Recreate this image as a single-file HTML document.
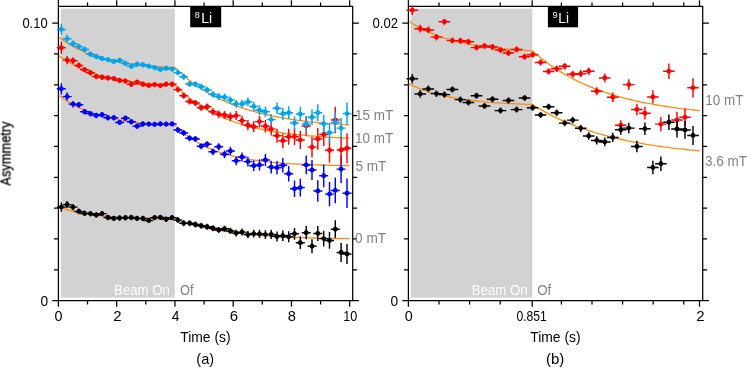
<!DOCTYPE html>
<html><head><meta charset="utf-8"><title>Asymmetry vs Time</title>
<style>
html,body{margin:0;padding:0;background:#fff;}
body{width:747px;height:368px;overflow:hidden;font-family:"Liberation Sans",sans-serif;}
svg{display:block;}
svg text, .t{font-family:"Liberation Sans",sans-serif;}
.t{opacity:0.999;}
</style></head><body>
<svg width="747" height="368" viewBox="0 0 747 368">
<rect width="747" height="368" fill="#fff"/>
<rect x="60.8" y="8.7" width="114.0" height="288.9" fill="#d2d2d2"/>
<rect x="410.8" y="8.7" width="121.5" height="288.9" fill="#d2d2d2"/>
<g stroke="#000" stroke-width="1.25" fill="none" stroke-linecap="butt">
<path d="M58.40,6.40 H352.70 V301.10"/>
<path d="M58.40,0 V306.7"/>
<path d="M52.30,300.50 H358.90"/>
<path d="M116.66,0.3 V6.40 M116.66,300.50 V306.7"/>
<path d="M174.92,0.3 V6.40 M174.92,300.50 V306.7"/>
<path d="M233.18,0.3 V6.40 M233.18,300.50 V306.7"/>
<path d="M291.44,0.3 V6.40 M291.44,300.50 V306.7"/>
<path d="M349.70,0.3 V6.40 M349.70,300.50 V306.7"/>
<path d="M87.53,2.4 V6.40 M87.53,300.50 V304.6"/>
<path d="M145.79,2.4 V6.40 M145.79,300.50 V304.6"/>
<path d="M204.05,2.4 V6.40 M204.05,300.50 V304.6"/>
<path d="M262.31,2.4 V6.40 M262.31,300.50 V304.6"/>
<path d="M320.57,2.4 V6.40 M320.57,300.50 V304.6"/>
<path d="M52.30,23.10 H58.40 M352.70,23.10 H358.90"/>
<path d="M54.00,53.94 H58.40 M352.70,53.94 H357.10"/>
<path d="M54.00,84.78 H58.40 M352.70,84.78 H357.10"/>
<path d="M54.00,115.62 H58.40 M352.70,115.62 H357.10"/>
<path d="M54.00,146.46 H58.40 M352.70,146.46 H357.10"/>
<path d="M54.00,177.30 H58.40 M352.70,177.30 H357.10"/>
<path d="M54.00,208.14 H58.40 M352.70,208.14 H357.10"/>
<path d="M54.00,238.98 H58.40 M352.70,238.98 H357.10"/>
<path d="M54.00,269.82 H58.40 M352.70,269.82 H357.10"/>
</g>
<g stroke="#000" stroke-width="1.25" fill="none" stroke-linecap="butt">
<path d="M408.40,6.40 H702.70 V301.10"/>
<path d="M408.40,0 V306.7"/>
<path d="M402.30,300.50 H708.90"/>
<path d="M532.20,0.3 V6.40 M532.20,300.50 V306.7"/>
<path d="M699.50,0.3 V6.40 M699.50,300.50 V306.7"/>
<path d="M439.00,2.4 V6.40 M439.00,300.50 V304.6"/>
<path d="M469.60,2.4 V6.40 M469.60,300.50 V304.6"/>
<path d="M500.20,2.4 V6.40 M500.20,300.50 V304.6"/>
<path d="M561.40,2.4 V6.40 M561.40,300.50 V304.6"/>
<path d="M592.00,2.4 V6.40 M592.00,300.50 V304.6"/>
<path d="M622.60,2.4 V6.40 M622.60,300.50 V304.6"/>
<path d="M653.20,2.4 V6.40 M653.20,300.50 V304.6"/>
<path d="M683.80,2.4 V6.40 M683.80,300.50 V304.6"/>
<path d="M402.30,23.10 H408.40 M702.70,23.10 H708.90"/>
<path d="M404.00,53.94 H408.40 M702.70,53.94 H707.10"/>
<path d="M404.00,84.78 H408.40 M702.70,84.78 H707.10"/>
<path d="M404.00,115.62 H408.40 M702.70,115.62 H707.10"/>
<path d="M404.00,146.46 H408.40 M702.70,146.46 H707.10"/>
<path d="M404.00,177.30 H408.40 M702.70,177.30 H707.10"/>
<path d="M404.00,208.14 H408.40 M702.70,208.14 H707.10"/>
<path d="M404.00,238.98 H408.40 M702.70,238.98 H707.10"/>
<path d="M404.00,269.82 H408.40 M702.70,269.82 H707.10"/>
</g>
<g stroke="#ff8a0d" stroke-width="1.3" fill="none">
<path d="M58.8,37.0 L60.7,38.5 L62.7,39.9 L64.6,41.2 L66.5,42.5 L68.5,43.7 L70.4,44.9 L72.4,46.0 L74.3,47.1 L76.2,48.1 L78.2,49.1 L80.1,50.0 L82.0,50.9 L84.0,51.7 L85.9,52.6 L87.8,53.3 L89.8,54.1 L91.7,54.8 L93.7,55.4 L95.6,56.1 L97.5,56.7 L99.5,57.3 L101.4,57.8 L103.3,58.4 L105.3,58.9 L107.2,59.4 L109.2,59.8 L111.1,60.3 L113.0,60.7 L115.0,61.1 L116.9,61.5 L118.8,61.9 L120.8,62.2 L122.7,62.6 L124.6,62.9 L126.6,63.2 L128.5,63.5 L130.5,63.8 L132.4,64.0 L134.3,64.3 L136.3,64.5 L138.2,64.8 L140.1,65.0 L142.1,65.2 L144.0,65.4 L145.9,65.6 L147.9,65.8 L149.8,66.0 L151.8,66.1 L153.7,66.3 L155.6,66.4 L157.6,66.6 L159.5,66.7 L161.4,66.9 L163.4,67.0 L165.3,67.1 L167.3,67.2 L169.2,67.3 L171.1,67.4 L173.1,67.5 L175.0,67.6 L177.9,70.4 L180.8,73.1 L183.7,75.6 L186.6,78.1 L189.5,80.4 L192.4,82.6 L195.3,84.7 L198.3,86.7 L201.2,88.6 L204.1,90.5 L207.0,92.2 L209.9,93.9 L212.8,95.5 L215.7,97.0 L218.6,98.4 L221.5,99.8 L224.4,101.2 L227.3,102.4 L230.2,103.6 L233.1,104.8 L236.0,105.9 L238.9,106.9 L241.9,107.9 L244.8,108.8 L247.7,109.8 L250.6,110.6 L253.5,111.4 L256.4,112.2 L259.3,113.0 L262.2,113.7 L265.1,114.4 L268.0,115.0 L270.9,115.7 L273.8,116.3 L276.7,116.8 L279.6,117.4 L282.5,117.9 L285.5,118.4 L288.4,118.8 L291.3,119.3 L294.2,119.7 L297.1,120.1 L300.0,120.5 L302.9,120.9 L305.8,121.2 L308.7,121.6 L311.6,121.9 L314.5,122.2 L317.4,122.5 L320.3,122.8 L323.2,123.1 L326.1,123.3 L329.1,123.6 L332.0,123.8 L334.9,124.0 L337.8,124.2 L340.7,124.4 L343.6,124.6 L346.5,124.8 L349.4,125.0"/>
<path d="M58.8,55.6 L60.7,57.0 L62.7,58.4 L64.6,59.7 L66.5,60.9 L68.5,62.1 L70.4,63.2 L72.4,64.3 L74.3,65.3 L76.2,66.3 L78.2,67.2 L80.1,68.1 L82.0,68.9 L84.0,69.8 L85.9,70.5 L87.8,71.3 L89.8,72.0 L91.7,72.7 L93.7,73.3 L95.6,73.9 L97.5,74.5 L99.5,75.1 L101.4,75.6 L103.3,76.1 L105.3,76.6 L107.2,77.1 L109.2,77.5 L111.1,78.0 L113.0,78.4 L115.0,78.8 L116.9,79.1 L118.8,79.5 L120.8,79.8 L122.7,80.1 L124.6,80.5 L126.6,80.7 L128.5,81.0 L130.5,81.3 L132.4,81.6 L134.3,81.8 L136.3,82.0 L138.2,82.3 L140.1,82.5 L142.1,82.7 L144.0,82.9 L145.9,83.1 L147.9,83.2 L149.8,83.4 L151.8,83.6 L153.7,83.7 L155.6,83.9 L157.6,84.0 L159.5,84.1 L161.4,84.3 L163.4,84.4 L165.3,84.5 L167.3,84.6 L169.2,84.7 L171.1,84.8 L173.1,84.9 L175.0,85.0 L177.9,87.9 L180.8,90.7 L183.7,93.3 L186.6,95.8 L189.5,98.1 L192.4,100.3 L195.3,102.4 L198.3,104.4 L201.2,106.3 L204.1,108.1 L207.0,109.8 L209.9,111.4 L212.8,112.9 L215.7,114.4 L218.6,115.7 L221.5,117.0 L224.4,118.2 L227.3,119.4 L230.2,120.5 L233.1,121.5 L236.0,122.5 L238.9,123.5 L241.9,124.4 L244.8,125.2 L247.7,126.0 L250.6,126.8 L253.5,127.5 L256.4,128.2 L259.3,128.8 L262.2,129.4 L265.1,130.0 L268.0,130.5 L270.9,131.0 L273.8,131.5 L276.7,132.0 L279.6,132.4 L282.5,132.9 L285.5,133.3 L288.4,133.6 L291.3,134.0 L294.2,134.3 L297.1,134.6 L300.0,135.0 L302.9,135.2 L305.8,135.5 L308.7,135.8 L311.6,136.0 L314.5,136.2 L317.4,136.5 L320.3,136.7 L323.2,136.9 L326.1,137.1 L329.1,137.2 L332.0,137.4 L334.9,137.6 L337.8,137.7 L340.7,137.8 L343.6,138.0 L346.5,138.1 L349.4,138.2"/>
<path d="M58.8,95.3 L60.7,96.8 L62.7,98.1 L64.6,99.5 L66.5,100.7 L68.5,102.0 L70.4,103.1 L72.4,104.2 L74.3,105.3 L76.2,106.3 L78.2,107.2 L80.1,108.2 L82.0,109.0 L84.0,109.9 L85.9,110.7 L87.8,111.4 L89.8,112.2 L91.7,112.9 L93.7,113.5 L95.6,114.2 L97.5,114.8 L99.5,115.3 L101.4,115.9 L103.3,116.4 L105.3,116.9 L107.2,117.4 L109.2,117.9 L111.1,118.3 L113.0,118.7 L115.0,119.1 L116.9,119.5 L118.8,119.9 L120.8,120.2 L122.7,120.5 L124.6,120.9 L126.6,121.2 L128.5,121.5 L130.5,121.7 L132.4,122.0 L134.3,122.3 L136.3,122.5 L138.2,122.7 L140.1,122.9 L142.1,123.2 L144.0,123.4 L145.9,123.5 L147.9,123.7 L149.8,123.9 L151.8,124.1 L153.7,124.2 L155.6,124.4 L157.6,124.5 L159.5,124.7 L161.4,124.8 L163.4,124.9 L165.3,125.0 L167.3,125.2 L169.2,125.3 L171.1,125.4 L173.1,125.5 L175.0,125.6 L177.9,128.3 L180.8,130.8 L183.7,133.2 L186.6,135.4 L189.5,137.5 L192.4,139.4 L195.3,141.2 L198.3,142.9 L201.2,144.5 L204.1,145.9 L207.0,147.3 L209.9,148.6 L212.8,149.7 L215.7,150.8 L218.6,151.9 L221.5,152.8 L224.4,153.7 L227.3,154.6 L230.2,155.4 L233.1,156.1 L236.0,156.8 L238.9,157.4 L241.9,158.0 L244.8,158.6 L247.7,159.1 L250.6,159.6 L253.5,160.0 L256.4,160.4 L259.3,160.8 L262.2,161.2 L265.1,161.5 L268.0,161.9 L270.9,162.2 L273.8,162.4 L276.7,162.7 L279.6,162.9 L282.5,163.2 L285.5,163.4 L288.4,163.6 L291.3,163.8 L294.2,163.9 L297.1,164.1 L300.0,164.2 L302.9,164.4 L305.8,164.5 L308.7,164.6 L311.6,164.7 L314.5,164.8 L317.4,164.9 L320.3,165.0 L323.2,165.1 L326.1,165.2 L329.1,165.3 L332.0,165.3 L334.9,165.4 L337.8,165.5 L340.7,165.5 L343.6,165.6 L346.5,165.6 L349.4,165.7"/>
<path d="M58.8,207.1 L60.7,207.7 L62.7,208.4 L64.6,208.9 L66.5,209.5 L68.5,210.0 L70.4,210.5 L72.4,211.0 L74.3,211.4 L76.2,211.9 L78.2,212.3 L80.1,212.6 L82.0,213.0 L84.0,213.3 L85.9,213.7 L87.8,214.0 L89.8,214.3 L91.7,214.5 L93.7,214.8 L95.6,215.0 L97.5,215.3 L99.5,215.5 L101.4,215.7 L103.3,215.9 L105.3,216.1 L107.2,216.3 L109.2,216.4 L111.1,216.6 L113.0,216.8 L115.0,216.9 L116.9,217.0 L118.8,217.2 L120.8,217.3 L122.7,217.4 L124.6,217.5 L126.6,217.6 L128.5,217.7 L130.5,217.8 L132.4,217.9 L134.3,218.0 L136.3,218.1 L138.2,218.1 L140.1,218.2 L142.1,218.3 L144.0,218.3 L145.9,218.4 L147.9,218.5 L149.8,218.5 L151.8,218.6 L153.7,218.6 L155.6,218.7 L157.6,218.7 L159.5,218.7 L161.4,218.8 L163.4,218.8 L165.3,218.9 L167.3,218.9 L169.2,218.9 L171.1,219.0 L173.1,219.0 L175.0,219.0 L177.9,220.1 L180.8,221.1 L183.7,222.1 L186.7,223.0 L189.6,223.9 L192.5,224.7 L195.4,225.5 L198.3,226.2 L201.2,226.9 L204.1,227.6 L207.0,228.2 L210.0,228.8 L212.9,229.3 L215.8,229.9 L218.7,230.4 L221.6,230.9 L224.5,231.3 L227.4,231.7 L230.4,232.2 L233.3,232.5 L236.2,232.9 L239.1,233.3 L242.0,233.6 L244.9,233.9 L247.8,234.2 L250.7,234.5 L253.7,234.7 L256.6,235.0 L259.5,235.2 L262.4,235.4 L265.3,235.7 L268.2,235.9 L271.1,236.1 L274.1,236.2 L277.0,236.4 L279.9,236.6 L282.8,236.7 L285.7,236.9 L288.6,237.0 L291.5,237.1 L294.4,237.3 L297.4,237.4 L300.3,237.5 L303.2,237.6 L306.1,237.7 L309.0,237.8 L311.9,237.9 L314.8,238.0 L317.8,238.1 L320.7,238.1 L323.6,238.2 L326.5,238.3 L329.4,238.3 L332.3,238.4 L335.2,238.5 L338.1,238.5 L341.1,238.6 L344.0,238.6 L346.9,238.7 L349.8,238.7"/>
<path d="M408.8,21.1 L410.9,22.5 L412.9,23.7 L415.0,25.0 L417.0,26.2 L419.1,27.3 L421.2,28.4 L423.2,29.5 L425.3,30.5 L427.3,31.4 L429.4,32.3 L431.5,33.2 L433.5,34.1 L435.6,34.9 L437.6,35.6 L439.7,36.4 L441.8,37.1 L443.8,37.8 L445.9,38.4 L447.9,39.1 L450.0,39.7 L452.1,40.2 L454.1,40.8 L456.2,41.3 L458.2,41.8 L460.3,42.3 L462.4,42.7 L464.4,43.2 L466.5,43.6 L468.5,44.0 L470.6,44.4 L472.7,44.8 L474.7,45.1 L476.8,45.5 L478.8,45.8 L480.9,46.1 L483.0,46.4 L485.0,46.7 L487.1,47.0 L489.1,47.3 L491.2,47.5 L493.3,47.8 L495.3,48.0 L497.4,48.2 L499.4,48.4 L501.5,48.6 L503.6,48.8 L505.6,49.0 L507.7,49.2 L509.7,49.4 L511.8,49.5 L513.9,49.7 L515.9,49.8 L518.0,50.0 L520.0,50.1 L522.1,50.3 L524.2,50.4 L526.2,50.5 L528.3,50.6 L530.3,50.7 L532.4,50.8 L535.2,53.3 L538.0,55.6 L540.8,57.9 L543.6,60.1 L546.3,62.2 L549.1,64.2 L551.9,66.2 L554.7,68.1 L557.5,69.9 L560.3,71.6 L563.1,73.3 L565.9,74.9 L568.6,76.5 L571.4,78.0 L574.2,79.4 L577.0,80.8 L579.8,82.2 L582.6,83.5 L585.4,84.7 L588.2,85.9 L591.0,87.1 L593.7,88.2 L596.5,89.3 L599.3,90.3 L602.1,91.3 L604.9,92.3 L607.7,93.2 L610.5,94.1 L613.3,95.0 L616.0,95.8 L618.8,96.6 L621.6,97.4 L624.4,98.1 L627.2,98.8 L630.0,99.5 L632.8,100.2 L635.6,100.8 L638.4,101.5 L641.1,102.1 L643.9,102.6 L646.7,103.2 L649.5,103.7 L652.3,104.2 L655.1,104.7 L657.9,105.2 L660.7,105.7 L663.5,106.1 L666.2,106.5 L669.0,106.9 L671.8,107.3 L674.6,107.7 L677.4,108.1 L680.2,108.4 L683.0,108.8 L685.8,109.1 L688.5,109.4 L691.3,109.7 L694.1,110.0 L696.9,110.3 L699.7,110.6"/>
<path d="M408.8,83.9 L410.9,84.9 L412.9,85.8 L415.0,86.7 L417.0,87.5 L419.1,88.3 L421.2,89.1 L423.2,89.8 L425.3,90.6 L427.3,91.2 L429.4,91.9 L431.5,92.5 L433.5,93.1 L435.6,93.7 L437.6,94.2 L439.7,94.7 L441.8,95.2 L443.8,95.7 L445.9,96.1 L447.9,96.6 L450.0,97.0 L452.1,97.4 L454.1,97.7 L456.2,98.1 L458.2,98.5 L460.3,98.8 L462.4,99.1 L464.4,99.4 L466.5,99.7 L468.5,100.0 L470.6,100.2 L472.7,100.5 L474.7,100.7 L476.8,101.0 L478.8,101.2 L480.9,101.4 L483.0,101.6 L485.0,101.8 L487.1,102.0 L489.1,102.1 L491.2,102.3 L493.3,102.5 L495.3,102.6 L497.4,102.8 L499.4,102.9 L501.5,103.1 L503.6,103.2 L505.6,103.3 L507.7,103.4 L509.7,103.5 L511.8,103.6 L513.9,103.7 L515.9,103.8 L518.0,103.9 L520.0,104.0 L522.1,104.1 L524.2,104.2 L526.2,104.3 L528.3,104.4 L530.3,104.4 L532.4,104.5 L535.2,106.2 L538.0,107.9 L540.8,109.5 L543.6,111.1 L546.3,112.6 L549.1,114.1 L551.9,115.6 L554.7,116.9 L557.5,118.3 L560.3,119.6 L563.1,120.8 L565.9,122.0 L568.6,123.2 L571.4,124.3 L574.2,125.4 L577.0,126.5 L579.8,127.5 L582.6,128.5 L585.4,129.5 L588.2,130.4 L591.0,131.3 L593.7,132.2 L596.5,133.0 L599.3,133.9 L602.1,134.7 L604.9,135.4 L607.7,136.2 L610.5,136.9 L613.3,137.6 L616.0,138.2 L618.8,138.9 L621.6,139.5 L624.4,140.1 L627.2,140.7 L630.0,141.3 L632.8,141.8 L635.6,142.4 L638.4,142.9 L641.1,143.4 L643.9,143.9 L646.7,144.4 L649.5,144.8 L652.3,145.2 L655.1,145.7 L657.9,146.1 L660.7,146.5 L663.5,146.9 L666.2,147.2 L669.0,147.6 L671.8,147.9 L674.6,148.3 L677.4,148.6 L680.2,148.9 L683.0,149.2 L685.8,149.5 L688.5,149.8 L691.3,150.1 L694.1,150.4 L696.9,150.6 L699.7,150.9"/>
</g>
<g stroke="#000000" stroke-width="1.45" fill="#000000">
<path d="M56.8,207.1 h9.0 M61.3,202.4 v9.4 M62.6,204.6 h9.0 M67.1,201.0 v7.1 M68.5,207.1 h9.0 M73.0,204.0 v6.2 M74.3,211.5 h9.0 M78.8,208.6 v5.7 M80.1,213.4 h9.0 M84.6,210.6 v5.5 M85.9,213.6 h9.0 M90.4,210.9 v5.5 M91.8,215.0 h9.0 M96.3,212.3 v5.4 M97.6,213.6 h9.0 M102.1,210.9 v5.4 M103.4,217.5 h9.0 M107.9,214.8 v5.4 M109.3,218.4 h9.0 M113.8,215.7 v5.4 M115.1,218.0 h9.0 M119.6,215.3 v5.4 M120.9,217.8 h9.0 M125.4,215.1 v5.4 M126.8,217.5 h9.0 M131.3,214.8 v5.4 M132.6,218.4 h9.0 M137.1,215.7 v5.4 M138.4,218.5 h9.0 M142.9,215.8 v5.4 M144.2,220.4 h9.0 M148.8,217.7 v5.4 M150.1,217.6 h9.0 M154.6,214.9 v5.4 M155.9,217.4 h9.0 M160.4,214.7 v5.4 M161.7,219.3 h9.0 M166.2,216.6 v5.4 M167.6,217.6 h9.0 M172.1,214.9 v5.4 M173.4,220.1 h9.0 M177.9,217.1 v6.0 M179.2,223.3 h9.0 M183.7,220.3 v6.0 M185.1,223.3 h9.0 M189.6,220.3 v6.0 M190.9,224.5 h9.0 M195.4,221.5 v6.0 M196.7,225.8 h9.0 M201.2,222.8 v6.0 M202.6,226.7 h9.0 M207.1,223.7 v6.0 M208.4,228.2 h9.0 M212.9,225.2 v6.0 M214.2,229.9 h9.0 M218.7,226.9 v6.0 M220.0,228.8 h9.0 M224.5,225.8 v6.0 M225.9,230.9 h9.0 M230.4,227.8 v6.2 M231.7,233.1 h9.0 M236.2,229.8 v6.6 M237.5,232.1 h9.0 M242.0,228.6 v7.0 M243.4,234.6 h9.0 M247.9,230.9 v7.4 M249.2,233.6 h9.0 M253.7,229.7 v7.8 M255.0,234.0 h9.0 M259.5,229.8 v8.3 M260.9,234.6 h9.0 M265.4,230.2 v8.8 M266.7,234.4 h9.0 M271.2,229.7 v9.3 M272.5,236.5 h9.0 M277.0,231.5 v9.9 M278.3,235.8 h9.0 M282.8,230.6 v10.5 M284.2,236.8 h9.0 M288.7,231.2 v11.1 M290.0,233.8 h9.0 M294.5,227.9 v11.8 M295.8,242.8 h9.0 M300.3,236.6 v12.5 M301.7,232.7 h9.0 M306.2,226.1 v13.2 M307.5,246.2 h9.0 M312.0,239.2 v14.0 M313.3,233.4 h9.0 M317.8,226.0 v14.9 M319.2,238.6 h9.0 M323.7,230.7 v15.8 M325.0,240.5 h9.0 M329.5,232.1 v16.7 M330.8,229.2 h9.0 M335.3,220.3 v17.7 M336.6,252.5 h9.0 M341.1,243.1 v18.8 M342.5,254.0 h9.0 M347.0,244.1 v19.9" fill="none"/>
<circle cx="61.3" cy="207.1" r="2.45" stroke="none"/>
<circle cx="67.1" cy="204.6" r="2.45" stroke="none"/>
<circle cx="73.0" cy="207.1" r="2.45" stroke="none"/>
<circle cx="78.8" cy="211.5" r="2.45" stroke="none"/>
<circle cx="84.6" cy="213.4" r="2.45" stroke="none"/>
<circle cx="90.4" cy="213.6" r="2.45" stroke="none"/>
<circle cx="96.3" cy="215.0" r="2.45" stroke="none"/>
<circle cx="102.1" cy="213.6" r="2.45" stroke="none"/>
<circle cx="107.9" cy="217.5" r="2.45" stroke="none"/>
<circle cx="113.8" cy="218.4" r="2.45" stroke="none"/>
<circle cx="119.6" cy="218.0" r="2.45" stroke="none"/>
<circle cx="125.4" cy="217.8" r="2.45" stroke="none"/>
<circle cx="131.3" cy="217.5" r="2.45" stroke="none"/>
<circle cx="137.1" cy="218.4" r="2.45" stroke="none"/>
<circle cx="142.9" cy="218.5" r="2.45" stroke="none"/>
<circle cx="148.8" cy="220.4" r="2.45" stroke="none"/>
<circle cx="154.6" cy="217.6" r="2.45" stroke="none"/>
<circle cx="160.4" cy="217.4" r="2.45" stroke="none"/>
<circle cx="166.2" cy="219.3" r="2.45" stroke="none"/>
<circle cx="172.1" cy="217.6" r="2.45" stroke="none"/>
<circle cx="177.9" cy="220.1" r="2.45" stroke="none"/>
<circle cx="183.7" cy="223.3" r="2.45" stroke="none"/>
<circle cx="189.6" cy="223.3" r="2.45" stroke="none"/>
<circle cx="195.4" cy="224.5" r="2.45" stroke="none"/>
<circle cx="201.2" cy="225.8" r="2.45" stroke="none"/>
<circle cx="207.1" cy="226.7" r="2.45" stroke="none"/>
<circle cx="212.9" cy="228.2" r="2.45" stroke="none"/>
<circle cx="218.7" cy="229.9" r="2.45" stroke="none"/>
<circle cx="224.5" cy="228.8" r="2.45" stroke="none"/>
<circle cx="230.4" cy="230.9" r="2.45" stroke="none"/>
<circle cx="236.2" cy="233.1" r="2.45" stroke="none"/>
<circle cx="242.0" cy="232.1" r="2.45" stroke="none"/>
<circle cx="247.9" cy="234.6" r="2.45" stroke="none"/>
<circle cx="253.7" cy="233.6" r="2.45" stroke="none"/>
<circle cx="259.5" cy="234.0" r="2.45" stroke="none"/>
<circle cx="265.4" cy="234.6" r="2.45" stroke="none"/>
<circle cx="271.2" cy="234.4" r="2.45" stroke="none"/>
<circle cx="277.0" cy="236.5" r="2.45" stroke="none"/>
<circle cx="282.8" cy="235.8" r="2.45" stroke="none"/>
<circle cx="288.7" cy="236.8" r="2.45" stroke="none"/>
<circle cx="294.5" cy="233.8" r="2.45" stroke="none"/>
<circle cx="300.3" cy="242.8" r="2.45" stroke="none"/>
<circle cx="306.2" cy="232.7" r="2.45" stroke="none"/>
<circle cx="312.0" cy="246.2" r="2.45" stroke="none"/>
<circle cx="317.8" cy="233.4" r="2.45" stroke="none"/>
<circle cx="323.7" cy="238.6" r="2.45" stroke="none"/>
<circle cx="329.5" cy="240.5" r="2.45" stroke="none"/>
<circle cx="335.3" cy="229.2" r="2.45" stroke="none"/>
<circle cx="341.1" cy="252.5" r="2.45" stroke="none"/>
<circle cx="347.0" cy="254.0" r="2.45" stroke="none"/>
</g>
<g stroke="#0000ff" stroke-width="1.45" fill="#0000ff">
<path d="M56.8,88.8 h9.0 M61.3,83.2 v11.2 M62.6,96.6 h9.0 M67.1,92.6 v7.9 M68.5,104.1 h9.0 M73.0,100.9 v6.5 M74.3,104.8 h9.0 M78.8,101.9 v5.9 M80.1,111.7 h9.0 M84.6,108.9 v5.6 M85.9,113.6 h9.0 M90.4,110.9 v5.5 M91.8,115.5 h9.0 M96.3,112.8 v5.4 M97.6,114.8 h9.0 M102.1,112.1 v5.4 M103.4,117.7 h9.0 M107.9,115.0 v5.4 M109.3,117.7 h9.0 M113.8,115.0 v5.4 M115.1,122.4 h9.0 M119.6,119.7 v5.4 M120.9,118.2 h9.0 M125.4,115.5 v5.4 M126.8,121.8 h9.0 M131.3,119.1 v5.4 M132.6,126.2 h9.0 M137.1,123.5 v5.4 M138.4,124.0 h9.0 M142.9,121.3 v5.4 M144.2,124.1 h9.0 M148.8,121.4 v5.4 M150.1,124.4 h9.0 M154.6,121.7 v5.4 M155.9,123.9 h9.0 M160.4,121.2 v5.4 M161.7,124.1 h9.0 M166.2,121.4 v5.4 M167.6,123.9 h9.0 M172.1,121.2 v5.4 M173.4,130.0 h9.0 M177.9,127.0 v6.0 M179.2,132.9 h9.0 M183.7,129.9 v6.0 M185.1,138.2 h9.0 M189.6,135.2 v6.0 M190.9,139.0 h9.0 M195.4,136.0 v6.0 M196.7,146.2 h9.0 M201.2,143.2 v6.0 M202.6,144.3 h9.0 M207.1,141.2 v6.3 M208.4,151.8 h9.0 M212.9,148.5 v6.7 M214.2,146.8 h9.0 M218.7,143.2 v7.1 M220.0,154.3 h9.0 M224.5,150.5 v7.6 M225.9,151.0 h9.0 M230.4,146.9 v8.1 M231.7,160.8 h9.0 M236.2,156.5 v8.7 M237.5,157.0 h9.0 M242.0,152.4 v9.2 M243.4,161.6 h9.0 M247.9,156.7 v9.9 M249.2,165.8 h9.0 M253.7,160.5 v10.5 M255.0,164.9 h9.0 M259.5,159.3 v11.2 M260.9,159.9 h9.0 M265.4,153.9 v12.0 M266.7,167.1 h9.0 M271.2,160.7 v12.8 M272.5,167.7 h9.0 M277.0,160.9 v13.6 M278.3,165.3 h9.0 M282.8,158.0 v14.5 M284.2,173.7 h9.0 M288.7,166.0 v15.5 M290.0,188.7 h9.0 M294.5,180.4 v16.5 M295.8,187.6 h9.0 M300.3,178.8 v17.6 M301.7,164.9 h9.0 M306.2,155.5 v18.8 M307.5,169.9 h9.0 M312.0,159.9 v20.0 M313.3,191.0 h9.0 M317.8,180.3 v21.4 M319.2,175.8 h9.0 M323.7,164.4 v22.8 M325.0,194.1 h9.0 M329.5,181.9 v24.3 M330.8,190.4 h9.0 M335.3,177.4 v25.9 M336.6,169.1 h9.0 M341.1,155.3 v27.7 M342.5,193.2 h9.0 M347.0,178.4 v29.5" fill="none"/>
<circle cx="61.3" cy="88.8" r="2.45" stroke="none"/>
<circle cx="67.1" cy="96.6" r="2.45" stroke="none"/>
<circle cx="73.0" cy="104.1" r="2.45" stroke="none"/>
<circle cx="78.8" cy="104.8" r="2.45" stroke="none"/>
<circle cx="84.6" cy="111.7" r="2.45" stroke="none"/>
<circle cx="90.4" cy="113.6" r="2.45" stroke="none"/>
<circle cx="96.3" cy="115.5" r="2.45" stroke="none"/>
<circle cx="102.1" cy="114.8" r="2.45" stroke="none"/>
<circle cx="107.9" cy="117.7" r="2.45" stroke="none"/>
<circle cx="113.8" cy="117.7" r="2.45" stroke="none"/>
<circle cx="119.6" cy="122.4" r="2.45" stroke="none"/>
<circle cx="125.4" cy="118.2" r="2.45" stroke="none"/>
<circle cx="131.3" cy="121.8" r="2.45" stroke="none"/>
<circle cx="137.1" cy="126.2" r="2.45" stroke="none"/>
<circle cx="142.9" cy="124.0" r="2.45" stroke="none"/>
<circle cx="148.8" cy="124.1" r="2.45" stroke="none"/>
<circle cx="154.6" cy="124.4" r="2.45" stroke="none"/>
<circle cx="160.4" cy="123.9" r="2.45" stroke="none"/>
<circle cx="166.2" cy="124.1" r="2.45" stroke="none"/>
<circle cx="172.1" cy="123.9" r="2.45" stroke="none"/>
<circle cx="177.9" cy="130.0" r="2.45" stroke="none"/>
<circle cx="183.7" cy="132.9" r="2.45" stroke="none"/>
<circle cx="189.6" cy="138.2" r="2.45" stroke="none"/>
<circle cx="195.4" cy="139.0" r="2.45" stroke="none"/>
<circle cx="201.2" cy="146.2" r="2.45" stroke="none"/>
<circle cx="207.1" cy="144.3" r="2.45" stroke="none"/>
<circle cx="212.9" cy="151.8" r="2.45" stroke="none"/>
<circle cx="218.7" cy="146.8" r="2.45" stroke="none"/>
<circle cx="224.5" cy="154.3" r="2.45" stroke="none"/>
<circle cx="230.4" cy="151.0" r="2.45" stroke="none"/>
<circle cx="236.2" cy="160.8" r="2.45" stroke="none"/>
<circle cx="242.0" cy="157.0" r="2.45" stroke="none"/>
<circle cx="247.9" cy="161.6" r="2.45" stroke="none"/>
<circle cx="253.7" cy="165.8" r="2.45" stroke="none"/>
<circle cx="259.5" cy="164.9" r="2.45" stroke="none"/>
<circle cx="265.4" cy="159.9" r="2.45" stroke="none"/>
<circle cx="271.2" cy="167.1" r="2.45" stroke="none"/>
<circle cx="277.0" cy="167.7" r="2.45" stroke="none"/>
<circle cx="282.8" cy="165.3" r="2.45" stroke="none"/>
<circle cx="288.7" cy="173.7" r="2.45" stroke="none"/>
<circle cx="294.5" cy="188.7" r="2.45" stroke="none"/>
<circle cx="300.3" cy="187.6" r="2.45" stroke="none"/>
<circle cx="306.2" cy="164.9" r="2.45" stroke="none"/>
<circle cx="312.0" cy="169.9" r="2.45" stroke="none"/>
<circle cx="317.8" cy="191.0" r="2.45" stroke="none"/>
<circle cx="323.7" cy="175.8" r="2.45" stroke="none"/>
<circle cx="329.5" cy="194.1" r="2.45" stroke="none"/>
<circle cx="335.3" cy="190.4" r="2.45" stroke="none"/>
<circle cx="341.1" cy="169.1" r="2.45" stroke="none"/>
<circle cx="347.0" cy="193.2" r="2.45" stroke="none"/>
</g>
<g stroke="#ff0000" stroke-width="1.45" fill="#ff0000">
<path d="M56.8,47.8 h9.0 M61.3,41.6 v12.4 M62.6,60.1 h9.0 M67.1,55.9 v8.4 M68.5,60.7 h9.0 M73.0,57.3 v6.7 M74.3,65.4 h9.0 M78.8,62.4 v6.0 M80.1,69.8 h9.0 M84.6,67.0 v5.6 M85.9,72.7 h9.0 M90.4,69.9 v5.5 M91.8,76.5 h9.0 M96.3,73.8 v5.4 M97.6,77.3 h9.0 M102.1,74.6 v5.4 M103.4,78.0 h9.0 M107.9,75.3 v5.4 M109.3,78.6 h9.0 M113.8,75.9 v5.4 M115.1,80.5 h9.0 M119.6,77.8 v5.4 M120.9,81.1 h9.0 M125.4,78.4 v5.4 M126.8,84.3 h9.0 M131.3,81.6 v5.4 M132.6,82.1 h9.0 M137.1,79.4 v5.4 M138.4,84.3 h9.0 M142.9,81.6 v5.4 M144.2,85.4 h9.0 M148.8,82.7 v5.4 M150.1,84.6 h9.0 M154.6,81.9 v5.4 M155.9,85.6 h9.0 M160.4,82.9 v5.4 M161.7,84.2 h9.0 M166.2,81.5 v5.4 M167.6,84.2 h9.0 M172.1,81.5 v5.4 M173.4,89.6 h9.0 M177.9,86.6 v6.0 M179.2,95.7 h9.0 M183.7,92.7 v6.0 M185.1,101.4 h9.0 M189.6,98.4 v6.0 M190.9,102.9 h9.0 M195.4,99.9 v6.0 M196.7,107.7 h9.0 M201.2,104.6 v6.1 M202.6,106.8 h9.0 M207.1,103.5 v6.5 M208.4,111.8 h9.0 M212.9,108.3 v7.0 M214.2,114.1 h9.0 M218.7,110.4 v7.4 M220.0,115.0 h9.0 M224.5,111.1 v7.9 M225.9,116.8 h9.0 M230.4,112.6 v8.4 M231.7,115.6 h9.0 M236.2,111.1 v9.0 M237.5,120.6 h9.0 M242.0,115.8 v9.5 M243.4,125.2 h9.0 M247.9,120.1 v10.2 M249.2,126.7 h9.0 M253.7,121.3 v10.8 M255.0,121.6 h9.0 M259.5,115.8 v11.6 M260.9,126.3 h9.0 M265.4,120.1 v12.3 M266.7,129.1 h9.0 M271.2,122.5 v13.1 M272.5,135.8 h9.0 M277.0,128.8 v14.0 M278.3,140.8 h9.0 M282.8,133.4 v14.9 M284.2,136.7 h9.0 M288.7,128.8 v15.9 M290.0,136.6 h9.0 M294.5,128.1 v16.9 M295.8,139.9 h9.0 M300.3,130.9 v18.0 M301.7,125.9 h9.0 M306.2,116.3 v19.2 M307.5,147.1 h9.0 M312.0,136.9 v20.5 M313.3,138.9 h9.0 M317.8,128.0 v21.8 M319.2,134.5 h9.0 M323.7,122.9 v23.2 M325.0,150.2 h9.0 M329.5,137.8 v24.7 M330.8,120.0 h9.0 M335.3,106.8 v26.4 M336.6,149.9 h9.0 M341.1,135.9 v28.1 M342.5,148.3 h9.0 M347.0,133.3 v29.9" fill="none"/>
<circle cx="61.3" cy="47.8" r="2.45" stroke="none"/>
<circle cx="67.1" cy="60.1" r="2.45" stroke="none"/>
<circle cx="73.0" cy="60.7" r="2.45" stroke="none"/>
<circle cx="78.8" cy="65.4" r="2.45" stroke="none"/>
<circle cx="84.6" cy="69.8" r="2.45" stroke="none"/>
<circle cx="90.4" cy="72.7" r="2.45" stroke="none"/>
<circle cx="96.3" cy="76.5" r="2.45" stroke="none"/>
<circle cx="102.1" cy="77.3" r="2.45" stroke="none"/>
<circle cx="107.9" cy="78.0" r="2.45" stroke="none"/>
<circle cx="113.8" cy="78.6" r="2.45" stroke="none"/>
<circle cx="119.6" cy="80.5" r="2.45" stroke="none"/>
<circle cx="125.4" cy="81.1" r="2.45" stroke="none"/>
<circle cx="131.3" cy="84.3" r="2.45" stroke="none"/>
<circle cx="137.1" cy="82.1" r="2.45" stroke="none"/>
<circle cx="142.9" cy="84.3" r="2.45" stroke="none"/>
<circle cx="148.8" cy="85.4" r="2.45" stroke="none"/>
<circle cx="154.6" cy="84.6" r="2.45" stroke="none"/>
<circle cx="160.4" cy="85.6" r="2.45" stroke="none"/>
<circle cx="166.2" cy="84.2" r="2.45" stroke="none"/>
<circle cx="172.1" cy="84.2" r="2.45" stroke="none"/>
<circle cx="177.9" cy="89.6" r="2.45" stroke="none"/>
<circle cx="183.7" cy="95.7" r="2.45" stroke="none"/>
<circle cx="189.6" cy="101.4" r="2.45" stroke="none"/>
<circle cx="195.4" cy="102.9" r="2.45" stroke="none"/>
<circle cx="201.2" cy="107.7" r="2.45" stroke="none"/>
<circle cx="207.1" cy="106.8" r="2.45" stroke="none"/>
<circle cx="212.9" cy="111.8" r="2.45" stroke="none"/>
<circle cx="218.7" cy="114.1" r="2.45" stroke="none"/>
<circle cx="224.5" cy="115.0" r="2.45" stroke="none"/>
<circle cx="230.4" cy="116.8" r="2.45" stroke="none"/>
<circle cx="236.2" cy="115.6" r="2.45" stroke="none"/>
<circle cx="242.0" cy="120.6" r="2.45" stroke="none"/>
<circle cx="247.9" cy="125.2" r="2.45" stroke="none"/>
<circle cx="253.7" cy="126.7" r="2.45" stroke="none"/>
<circle cx="259.5" cy="121.6" r="2.45" stroke="none"/>
<circle cx="265.4" cy="126.3" r="2.45" stroke="none"/>
<circle cx="271.2" cy="129.1" r="2.45" stroke="none"/>
<circle cx="277.0" cy="135.8" r="2.45" stroke="none"/>
<circle cx="282.8" cy="140.8" r="2.45" stroke="none"/>
<circle cx="288.7" cy="136.7" r="2.45" stroke="none"/>
<circle cx="294.5" cy="136.6" r="2.45" stroke="none"/>
<circle cx="300.3" cy="139.9" r="2.45" stroke="none"/>
<circle cx="306.2" cy="125.9" r="2.45" stroke="none"/>
<circle cx="312.0" cy="147.1" r="2.45" stroke="none"/>
<circle cx="317.8" cy="138.9" r="2.45" stroke="none"/>
<circle cx="323.7" cy="134.5" r="2.45" stroke="none"/>
<circle cx="329.5" cy="150.2" r="2.45" stroke="none"/>
<circle cx="335.3" cy="120.0" r="2.45" stroke="none"/>
<circle cx="341.1" cy="149.9" r="2.45" stroke="none"/>
<circle cx="347.0" cy="148.3" r="2.45" stroke="none"/>
</g>
<g stroke="#00a5ee" stroke-width="1.45" fill="#00a5ee">
<path d="M56.8,29.4 h9.0 M61.3,23.8 v11.2 M62.6,38.7 h9.0 M67.1,34.7 v7.9 M68.5,43.8 h9.0 M73.0,40.6 v6.5 M74.3,46.6 h9.0 M78.8,43.7 v5.9 M80.1,49.5 h9.0 M84.6,46.7 v5.6 M85.9,54.2 h9.0 M90.4,51.5 v5.5 M91.8,56.5 h9.0 M96.3,53.8 v5.4 M97.6,58.6 h9.0 M102.1,55.9 v5.4 M103.4,59.6 h9.0 M107.9,56.9 v5.4 M109.3,61.4 h9.0 M113.8,58.7 v5.4 M115.1,60.5 h9.0 M119.6,57.8 v5.4 M120.9,63.4 h9.0 M125.4,60.7 v5.4 M126.8,66.2 h9.0 M131.3,63.5 v5.4 M132.6,64.3 h9.0 M137.1,61.6 v5.4 M138.4,64.8 h9.0 M142.9,62.1 v5.4 M144.2,66.1 h9.0 M148.8,63.4 v5.4 M150.1,67.6 h9.0 M154.6,64.9 v5.4 M155.9,69.5 h9.0 M160.4,66.8 v5.4 M161.7,68.2 h9.0 M166.2,65.5 v5.4 M167.6,69.1 h9.0 M172.1,66.4 v5.4 M173.4,72.6 h9.0 M177.9,69.6 v6.0 M179.2,76.7 h9.0 M183.7,73.7 v6.0 M185.1,84.0 h9.0 M189.6,81.0 v6.0 M190.9,84.2 h9.0 M195.4,81.2 v6.0 M196.7,86.7 h9.0 M201.2,83.7 v6.0 M202.6,90.0 h9.0 M207.1,87.0 v6.0 M208.4,94.4 h9.0 M212.9,91.2 v6.4 M214.2,96.6 h9.0 M218.7,93.2 v6.7 M220.0,97.2 h9.0 M224.5,93.6 v7.1 M225.9,100.1 h9.0 M230.4,96.4 v7.5 M231.7,103.9 h9.0 M236.2,99.9 v7.9 M237.5,103.9 h9.0 M242.0,99.7 v8.4 M243.4,101.9 h9.0 M247.9,97.5 v8.8 M249.2,106.4 h9.0 M253.7,101.8 v9.3 M255.0,110.2 h9.0 M259.5,105.3 v9.8 M260.9,111.7 h9.0 M265.4,106.5 v10.4 M266.7,119.6 h9.0 M271.2,114.1 v10.9 M272.5,108.3 h9.0 M277.0,102.5 v11.5 M278.3,113.8 h9.0 M282.8,107.7 v12.2 M284.2,112.7 h9.0 M288.7,106.3 v12.8 M290.0,123.0 h9.0 M294.5,116.2 v13.5 M295.8,113.9 h9.0 M300.3,106.8 v14.3 M301.7,124.0 h9.0 M306.2,116.5 v15.1 M307.5,117.3 h9.0 M312.0,109.3 v15.9 M313.3,112.7 h9.0 M317.8,104.3 v16.8 M319.2,123.8 h9.0 M323.7,114.9 v17.7 M325.0,132.6 h9.0 M329.5,123.2 v18.7 M330.8,122.4 h9.0 M335.3,112.5 v19.7 M336.6,128.1 h9.0 M341.1,117.7 v20.8 M342.5,113.6 h9.0 M347.0,102.6 v22.0" fill="none"/>
<circle cx="61.3" cy="29.4" r="2.45" stroke="none"/>
<circle cx="67.1" cy="38.7" r="2.45" stroke="none"/>
<circle cx="73.0" cy="43.8" r="2.45" stroke="none"/>
<circle cx="78.8" cy="46.6" r="2.45" stroke="none"/>
<circle cx="84.6" cy="49.5" r="2.45" stroke="none"/>
<circle cx="90.4" cy="54.2" r="2.45" stroke="none"/>
<circle cx="96.3" cy="56.5" r="2.45" stroke="none"/>
<circle cx="102.1" cy="58.6" r="2.45" stroke="none"/>
<circle cx="107.9" cy="59.6" r="2.45" stroke="none"/>
<circle cx="113.8" cy="61.4" r="2.45" stroke="none"/>
<circle cx="119.6" cy="60.5" r="2.45" stroke="none"/>
<circle cx="125.4" cy="63.4" r="2.45" stroke="none"/>
<circle cx="131.3" cy="66.2" r="2.45" stroke="none"/>
<circle cx="137.1" cy="64.3" r="2.45" stroke="none"/>
<circle cx="142.9" cy="64.8" r="2.45" stroke="none"/>
<circle cx="148.8" cy="66.1" r="2.45" stroke="none"/>
<circle cx="154.6" cy="67.6" r="2.45" stroke="none"/>
<circle cx="160.4" cy="69.5" r="2.45" stroke="none"/>
<circle cx="166.2" cy="68.2" r="2.45" stroke="none"/>
<circle cx="172.1" cy="69.1" r="2.45" stroke="none"/>
<circle cx="177.9" cy="72.6" r="2.45" stroke="none"/>
<circle cx="183.7" cy="76.7" r="2.45" stroke="none"/>
<circle cx="189.6" cy="84.0" r="2.45" stroke="none"/>
<circle cx="195.4" cy="84.2" r="2.45" stroke="none"/>
<circle cx="201.2" cy="86.7" r="2.45" stroke="none"/>
<circle cx="207.1" cy="90.0" r="2.45" stroke="none"/>
<circle cx="212.9" cy="94.4" r="2.45" stroke="none"/>
<circle cx="218.7" cy="96.6" r="2.45" stroke="none"/>
<circle cx="224.5" cy="97.2" r="2.45" stroke="none"/>
<circle cx="230.4" cy="100.1" r="2.45" stroke="none"/>
<circle cx="236.2" cy="103.9" r="2.45" stroke="none"/>
<circle cx="242.0" cy="103.9" r="2.45" stroke="none"/>
<circle cx="247.9" cy="101.9" r="2.45" stroke="none"/>
<circle cx="253.7" cy="106.4" r="2.45" stroke="none"/>
<circle cx="259.5" cy="110.2" r="2.45" stroke="none"/>
<circle cx="265.4" cy="111.7" r="2.45" stroke="none"/>
<circle cx="271.2" cy="119.6" r="2.45" stroke="none"/>
<circle cx="277.0" cy="108.3" r="2.45" stroke="none"/>
<circle cx="282.8" cy="113.8" r="2.45" stroke="none"/>
<circle cx="288.7" cy="112.7" r="2.45" stroke="none"/>
<circle cx="294.5" cy="123.0" r="2.45" stroke="none"/>
<circle cx="300.3" cy="113.9" r="2.45" stroke="none"/>
<circle cx="306.2" cy="124.0" r="2.45" stroke="none"/>
<circle cx="312.0" cy="117.3" r="2.45" stroke="none"/>
<circle cx="317.8" cy="112.7" r="2.45" stroke="none"/>
<circle cx="323.7" cy="123.8" r="2.45" stroke="none"/>
<circle cx="329.5" cy="132.6" r="2.45" stroke="none"/>
<circle cx="335.3" cy="122.4" r="2.45" stroke="none"/>
<circle cx="341.1" cy="128.1" r="2.45" stroke="none"/>
<circle cx="347.0" cy="113.6" r="2.45" stroke="none"/>
</g>
<g stroke="#ff0000" stroke-width="1.45" fill="#ff0000">
<path d="M406.5,10.3 h11.6 M412.3,5.5 v9.6 M414.5,28.7 h11.6 M420.3,24.8 v7.8 M422.5,29.9 h11.6 M428.3,26.4 v6.9 M430.6,37.1 h11.6 M436.4,33.9 v6.5 M438.6,21.8 h11.6 M444.4,18.7 v6.3 M446.6,40.6 h11.6 M452.4,37.5 v6.1 M454.6,40.8 h11.6 M460.4,37.8 v6.1 M462.6,41.8 h11.6 M468.4,38.8 v6.0 M470.7,47.6 h11.6 M476.5,44.6 v6.0 M478.7,46.0 h11.6 M484.5,43.0 v6.0 M486.7,47.0 h11.6 M492.5,44.0 v6.0 M494.7,49.9 h11.6 M500.5,46.9 v6.0 M502.7,52.9 h11.6 M508.5,49.9 v6.0 M510.8,49.5 h11.6 M516.6,46.5 v6.0 M518.8,56.8 h11.6 M524.6,53.8 v6.0 M526.8,54.8 h11.6 M532.6,51.8 v6.0 M534.8,62.4 h11.6 M540.6,59.4 v6.0 M542.8,71.5 h11.6 M548.6,68.4 v6.1 M550.9,68.7 h11.6 M556.7,65.6 v6.3 M558.9,66.2 h11.6 M564.7,62.9 v6.5 M566.9,74.2 h11.6 M572.7,70.8 v6.8 M574.9,73.7 h11.6 M580.7,70.1 v7.2 M582.9,71.3 h11.6 M588.7,67.5 v7.6 M591.0,91.3 h11.6 M596.8,87.2 v8.1 M599.0,77.9 h11.6 M604.8,73.6 v8.7 M607.0,97.3 h11.6 M612.8,92.6 v9.3 M615.0,125.3 h11.6 M620.8,120.3 v10.0 M623.0,84.6 h11.6 M628.8,79.2 v10.8 M631.1,109.5 h11.6 M636.9,103.7 v11.6 M639.1,113.3 h11.6 M644.9,107.1 v12.5 M647.1,96.9 h11.6 M652.9,90.2 v13.4 M655.1,124.1 h11.6 M660.9,116.9 v14.4 M663.1,71.3 h11.6 M668.9,63.5 v15.5 M671.2,120.0 h11.6 M677.0,111.7 v16.7 M679.2,117.2 h11.6 M685.0,108.2 v17.9 M687.2,87.8 h11.6 M693.0,78.2 v19.2" fill="none"/>
<circle cx="412.3" cy="10.3" r="2.45" stroke="none"/>
<circle cx="420.3" cy="28.7" r="2.45" stroke="none"/>
<circle cx="428.3" cy="29.9" r="2.45" stroke="none"/>
<circle cx="436.4" cy="37.1" r="2.45" stroke="none"/>
<circle cx="444.4" cy="21.8" r="2.45" stroke="none"/>
<circle cx="452.4" cy="40.6" r="2.45" stroke="none"/>
<circle cx="460.4" cy="40.8" r="2.45" stroke="none"/>
<circle cx="468.4" cy="41.8" r="2.45" stroke="none"/>
<circle cx="476.5" cy="47.6" r="2.45" stroke="none"/>
<circle cx="484.5" cy="46.0" r="2.45" stroke="none"/>
<circle cx="492.5" cy="47.0" r="2.45" stroke="none"/>
<circle cx="500.5" cy="49.9" r="2.45" stroke="none"/>
<circle cx="508.5" cy="52.9" r="2.45" stroke="none"/>
<circle cx="516.6" cy="49.5" r="2.45" stroke="none"/>
<circle cx="524.6" cy="56.8" r="2.45" stroke="none"/>
<circle cx="532.6" cy="54.8" r="2.45" stroke="none"/>
<circle cx="540.6" cy="62.4" r="2.45" stroke="none"/>
<circle cx="548.6" cy="71.5" r="2.45" stroke="none"/>
<circle cx="556.7" cy="68.7" r="2.45" stroke="none"/>
<circle cx="564.7" cy="66.2" r="2.45" stroke="none"/>
<circle cx="572.7" cy="74.2" r="2.45" stroke="none"/>
<circle cx="580.7" cy="73.7" r="2.45" stroke="none"/>
<circle cx="588.7" cy="71.3" r="2.45" stroke="none"/>
<circle cx="596.8" cy="91.3" r="2.45" stroke="none"/>
<circle cx="604.8" cy="77.9" r="2.45" stroke="none"/>
<circle cx="612.8" cy="97.3" r="2.45" stroke="none"/>
<circle cx="620.8" cy="125.3" r="2.45" stroke="none"/>
<circle cx="628.8" cy="84.6" r="2.45" stroke="none"/>
<circle cx="636.9" cy="109.5" r="2.45" stroke="none"/>
<circle cx="644.9" cy="113.3" r="2.45" stroke="none"/>
<circle cx="652.9" cy="96.9" r="2.45" stroke="none"/>
<circle cx="660.9" cy="124.1" r="2.45" stroke="none"/>
<circle cx="668.9" cy="71.3" r="2.45" stroke="none"/>
<circle cx="677.0" cy="120.0" r="2.45" stroke="none"/>
<circle cx="685.0" cy="117.2" r="2.45" stroke="none"/>
<circle cx="693.0" cy="87.8" r="2.45" stroke="none"/>
</g>
<g stroke="#000000" stroke-width="1.45" fill="#000000">
<path d="M406.5,78.8 h11.6 M412.3,74.0 v9.6 M414.5,93.9 h11.6 M420.3,90.0 v7.8 M422.5,88.9 h11.6 M428.3,85.4 v6.9 M430.6,93.6 h11.6 M436.4,90.4 v6.5 M438.6,94.6 h11.6 M444.4,91.5 v6.3 M446.6,89.5 h11.6 M452.4,86.4 v6.1 M454.6,99.6 h11.6 M460.4,96.6 v6.1 M462.6,102.4 h11.6 M468.4,99.4 v6.0 M470.7,95.8 h11.6 M476.5,92.8 v6.0 M478.7,106.0 h11.6 M484.5,103.0 v6.0 M486.7,99.3 h11.6 M492.5,96.3 v6.0 M494.7,110.6 h11.6 M500.5,107.6 v6.0 M502.7,100.4 h11.6 M508.5,97.4 v6.0 M510.8,109.6 h11.6 M516.6,106.6 v6.0 M518.8,97.9 h11.6 M524.6,94.9 v6.0 M526.8,107.7 h11.6 M532.6,104.7 v6.0 M534.8,114.9 h11.6 M540.6,111.9 v6.0 M542.8,106.8 h11.6 M548.6,103.7 v6.1 M550.9,112.7 h11.6 M556.7,109.6 v6.3 M558.9,123.1 h11.6 M564.7,119.8 v6.5 M566.9,120.1 h11.6 M572.7,116.7 v6.8 M574.9,128.3 h11.6 M580.7,124.7 v7.2 M582.9,136.0 h11.6 M588.7,132.2 v7.6 M591.0,140.4 h11.6 M596.8,136.3 v8.1 M599.0,141.9 h11.6 M604.8,137.6 v8.7 M607.0,137.4 h11.6 M612.8,132.8 v9.3 M615.0,129.7 h11.6 M620.8,124.7 v10.0 M623.0,128.1 h11.6 M628.8,122.7 v10.8 M631.1,146.5 h11.6 M636.9,140.7 v11.6 M639.1,128.8 h11.6 M644.9,122.6 v12.5 M647.1,167.5 h11.6 M652.9,160.8 v13.4 M655.1,163.7 h11.6 M660.9,156.5 v14.4 M663.1,122.2 h11.6 M668.9,114.4 v15.5 M671.2,129.0 h11.6 M677.0,120.7 v16.7 M679.2,129.9 h11.6 M685.0,120.9 v17.9 M687.2,135.5 h11.6 M693.0,125.9 v19.2" fill="none"/>
<circle cx="412.3" cy="78.8" r="2.45" stroke="none"/>
<circle cx="420.3" cy="93.9" r="2.45" stroke="none"/>
<circle cx="428.3" cy="88.9" r="2.45" stroke="none"/>
<circle cx="436.4" cy="93.6" r="2.45" stroke="none"/>
<circle cx="444.4" cy="94.6" r="2.45" stroke="none"/>
<circle cx="452.4" cy="89.5" r="2.45" stroke="none"/>
<circle cx="460.4" cy="99.6" r="2.45" stroke="none"/>
<circle cx="468.4" cy="102.4" r="2.45" stroke="none"/>
<circle cx="476.5" cy="95.8" r="2.45" stroke="none"/>
<circle cx="484.5" cy="106.0" r="2.45" stroke="none"/>
<circle cx="492.5" cy="99.3" r="2.45" stroke="none"/>
<circle cx="500.5" cy="110.6" r="2.45" stroke="none"/>
<circle cx="508.5" cy="100.4" r="2.45" stroke="none"/>
<circle cx="516.6" cy="109.6" r="2.45" stroke="none"/>
<circle cx="524.6" cy="97.9" r="2.45" stroke="none"/>
<circle cx="532.6" cy="107.7" r="2.45" stroke="none"/>
<circle cx="540.6" cy="114.9" r="2.45" stroke="none"/>
<circle cx="548.6" cy="106.8" r="2.45" stroke="none"/>
<circle cx="556.7" cy="112.7" r="2.45" stroke="none"/>
<circle cx="564.7" cy="123.1" r="2.45" stroke="none"/>
<circle cx="572.7" cy="120.1" r="2.45" stroke="none"/>
<circle cx="580.7" cy="128.3" r="2.45" stroke="none"/>
<circle cx="588.7" cy="136.0" r="2.45" stroke="none"/>
<circle cx="596.8" cy="140.4" r="2.45" stroke="none"/>
<circle cx="604.8" cy="141.9" r="2.45" stroke="none"/>
<circle cx="612.8" cy="137.4" r="2.45" stroke="none"/>
<circle cx="620.8" cy="129.7" r="2.45" stroke="none"/>
<circle cx="628.8" cy="128.1" r="2.45" stroke="none"/>
<circle cx="636.9" cy="146.5" r="2.45" stroke="none"/>
<circle cx="644.9" cy="128.8" r="2.45" stroke="none"/>
<circle cx="652.9" cy="167.5" r="2.45" stroke="none"/>
<circle cx="660.9" cy="163.7" r="2.45" stroke="none"/>
<circle cx="668.9" cy="122.2" r="2.45" stroke="none"/>
<circle cx="677.0" cy="129.0" r="2.45" stroke="none"/>
<circle cx="685.0" cy="129.9" r="2.45" stroke="none"/>
<circle cx="693.0" cy="135.5" r="2.45" stroke="none"/>
</g>
<rect x="190.2" y="6.4" width="31.0" height="20.9" fill="#000"/>
<rect x="547.9" y="6.4" width="30.2" height="20.9" fill="#000"/>
<g class="t">
<text transform="translate(194.7,17.7) scale(0.94,1)" font-size="9.8" fill="#fff">8</text>
<text transform="translate(201.23,23.10) scale(0.9502,1)" font-size="14.70" fill="#fff">Li</text>
<text transform="translate(552.6,17.7) scale(0.94,1)" font-size="9.8" fill="#fff">9</text>
<text transform="translate(558.36,23.10) scale(0.9286,1)" font-size="14.70" fill="#fff">Li</text>
<text transform="translate(22.43,27.50) scale(0.8627,1)" font-size="15.00" fill="#000">0.10</text>
<text transform="translate(372.42,27.50) scale(0.8781,1)" font-size="15.00" fill="#000">0.02</text>
<text transform="translate(40.60,305.60) scale(0.9167,1)" font-size="15.00" fill="#000">0</text>
<text transform="translate(390.60,305.60) scale(0.9167,1)" font-size="15.00" fill="#000">0</text>
<text transform="translate(54.57,320.90) scale(0.9583,1)" font-size="15.00" fill="#000">0</text>
<text transform="translate(113.30,320.90) scale(1.0000,1)" font-size="15.00" fill="#000">2</text>
<text transform="translate(171.77,320.90) scale(0.9281,1)" font-size="15.00" fill="#000">4</text>
<text transform="translate(229.70,320.90) scale(1.0000,1)" font-size="15.00" fill="#000">6</text>
<text transform="translate(287.76,320.90) scale(0.9787,1)" font-size="15.00" fill="#000">8</text>
<text transform="translate(343.34,320.90) scale(0.8418,1)" font-size="15.00" fill="#000">10</text>
<text transform="translate(404.67,320.90) scale(0.9583,1)" font-size="15.00" fill="#000">0</text>
<text transform="translate(516.46,320.90) scale(0.8099,1)" font-size="15.00" fill="#000">0.851</text>
<text transform="translate(696.20,320.90) scale(1.0000,1)" font-size="15.00" fill="#000">2</text>
<text transform="translate(180.27,341.90) scale(0.9258,1)" font-size="15.00" fill="#000">Time (s)</text>
<text transform="translate(530.27,341.90) scale(0.9258,1)" font-size="15.00" fill="#000">Time (s)</text>
<text transform="translate(196.37,363.90) scale(0.9758,1)" font-size="15.00" fill="#000">(a)</text>
<text transform="translate(545.95,363.90) scale(1.0000,1)" font-size="15.00" fill="#000">(b)</text>
<text transform="translate(10.50,185.60) rotate(-90) scale(0.8560,1)" font-size="15.00" fill="#000" stroke="#000" stroke-width="0.3">Asymmetry</text>
<text transform="translate(114.10,294.90) scale(0.8791,1)" font-size="15.00" fill="#fff">Beam On</text>
<text transform="translate(180.01,294.90) scale(0.8515,1)" font-size="15.00" fill="#808080">Of</text>
<text transform="translate(471.84,294.90) scale(0.8815,1)" font-size="15.00" fill="#fff">Beam On</text>
<text transform="translate(537.23,294.90) scale(0.8878,1)" font-size="15.00" fill="#808080">Of</text>
<text transform="translate(355.07,119.80) scale(0.8962,1)" font-size="15.00" fill="#808080">15 mT</text>
<text transform="translate(355.07,142.70) scale(0.8962,1)" font-size="15.00" fill="#808080">10 mT</text>
<text transform="translate(355.41,170.80) scale(0.9069,1)" font-size="15.00" fill="#808080">5 mT</text>
<text transform="translate(355.11,243.40) scale(0.9069,1)" font-size="15.00" fill="#808080">0 mT</text>
<text transform="translate(705.37,105.40) scale(0.8962,1)" font-size="15.00" fill="#808080">10 mT</text>
<text transform="translate(705.01,165.60) scale(0.8984,1)" font-size="15.00" fill="#808080">3.6 mT</text>
</g>
</svg>
</body></html>
